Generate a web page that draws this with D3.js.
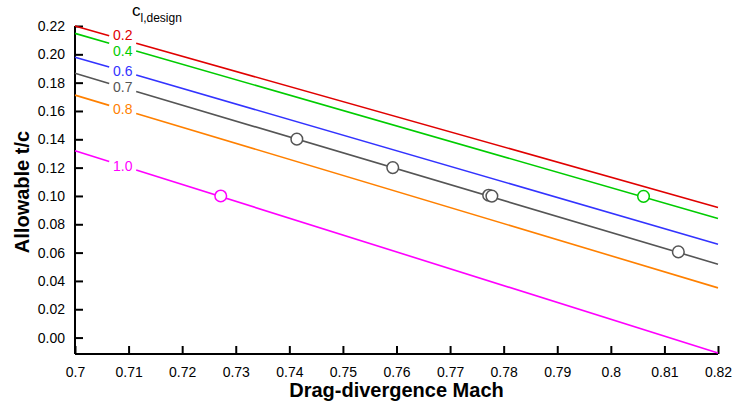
<!DOCTYPE html>
<html>
<head>
<meta charset="utf-8">
<script src="https://cdn.jsdelivr.net/npm/d3@7"></script>
<style>
  body { margin: 0; background: #fff; }
  text { font-family: Arial, "Liberation Sans", sans-serif; }
</style>
</head>
<body>
<div id="chart"></div>
<script>
// Chart size
const width = 738;
const height = 409;
const margin = { top: 26, right: 20, bottom: 55, left: 75 };

// Lines of allowable t/c vs drag-divergence Mach, one per design cl
const designCl = ["0.2", "0.4", "0.6", "0.7", "0.8", "1.0"];
const lineColors = ["#e00000", "#00cc00", "#3333ff", "#555555", "#ff8000", "#ff00ff"];
const machEnds = [0.70, 0.82];
const tcStart = [0.2200, 0.2148, 0.1980, 0.1866, 0.1712, 0.1319];
const tcEnd = [0.0919, 0.0841, 0.0659, 0.0518, 0.0351, -0.0109];

// Marked points (design cl, Mach, t/c)
const pointCl = ["1.0", "0.7", "0.7", "0.7", "0.7", "0.4", "0.7"];
const pointMach = [0.7272, 0.7414, 0.7593, 0.7772, 0.7778, 0.8061, 0.8126];
const pointTc = [0.1000, 0.1401, 0.1200, 0.1005, 0.0999, 0.0997, 0.0605];

// Axis ticks
const xTicks = [0.70, 0.71, 0.72, 0.73, 0.74, 0.75, 0.76, 0.77, 0.78, 0.79, 0.80, 0.81, 0.82];
const yTicks = [0.00, 0.02, 0.04, 0.06, 0.08, 0.10, 0.12, 0.14, 0.16, 0.18, 0.20, 0.22];
const labelMach = 0.7089;

const svg = d3.select("#chart")
    .append("svg")
    .attr("width", width)
    .attr("height", height);

const x = d3.scaleLinear()
    .domain([0.70, 0.82])
    .range([margin.left, width - margin.right]);

const y = d3.scaleLinear()
    .domain([-0.0116, 0.22])
    .range([height - margin.bottom, margin.top]);

// Axes, ticks pointing inward
const xAxis = svg.append("g")
    .attr("transform", `translate(0,${height - margin.bottom})`)
    .call(d3.axisBottom(x).tickValues(xTicks).tickSize(-8).tickPadding(13)
        .tickFormat(d => d3.format("")(+d.toFixed(2))));

const yAxis = svg.append("g")
    .attr("transform", `translate(${margin.left},0)`)
    .call(d3.axisLeft(y).tickValues(yTicks).tickSize(-8).tickPadding(10)
        .tickFormat(d3.format(".2f")));

[xAxis, yAxis].forEach(ax => {
    ax.select(".domain").attr("stroke", "#000").attr("stroke-width", 2);
    ax.selectAll(".tick line").attr("stroke", "#000").attr("stroke-width", 2);
    ax.selectAll(".tick text")
        .attr("fill", "#000")
        .style("font-size", "14px");
});
// remove the outer caps of the domain path
xAxis.select(".domain").attr("d", `M${x.range()[0]},0H${x.range()[1]}`);
yAxis.select(".domain").attr("d", `M0,${y.range()[0]}V${y.range()[1]}`);

// Lines with a gap where the label sits
const lineGen = d3.line().x(d => x(d[0])).y(d => y(d[1]));
const gapHalf = 13.5;
const tLabel = (labelMach - machEnds[0]) / (machEnds[1] - machEnds[0]);

// label positions on the lines, pushed apart when too close
const labelY = designCl.map((cl, i) => y(tcStart[i] + (tcEnd[i] - tcStart[i]) * tLabel));
const minSep = 16;
for (let i = 0; i < labelY.length - 1; i++) {
    const d = labelY[i + 1] - labelY[i];
    if (d < minSep) {
        labelY[i] -= (minSep - d) / 2;
        labelY[i + 1] += (minSep - d) / 2;
    }
}

designCl.forEach((cl, i) => {
    const pts = [[machEnds[0], tcStart[i]], [machEnds[1], tcEnd[i]]];
    const path = svg.append("path")
        .attr("d", lineGen(pts))
        .attr("fill", "none")
        .attr("stroke", lineColors[i])
        .attr("stroke-width", 1.6);

    const L = path.node().getTotalLength();
    const span = x(machEnds[1]) - x(machEnds[0]);
    const f1 = (x(labelMach) - gapHalf - x(machEnds[0])) / span;
    const f2 = (x(labelMach) + gapHalf - x(machEnds[0])) / span;
    path.attr("stroke-dasharray", `${f1 * L} ${(f2 - f1) * L} ${L}`);

    svg.append("text")
        .attr("x", x(labelMach))
        .attr("y", labelY[i])
        .attr("dy", "0.35em")
        .attr("text-anchor", "middle")
        .attr("fill", lineColors[i])
        .style("font-size", "14px")
        .text(cl);
});

// Markers
svg.selectAll("circle.pt")
    .data(pointMach)
    .enter()
    .append("circle")
    .attr("class", "pt")
    .attr("cx", d => x(d))
    .attr("cy", (d, i) => y(pointTc[i]))
    .attr("r", 5.8)
    .attr("fill", "#fff")
    .attr("stroke", (d, i) => lineColors[designCl.indexOf(pointCl[i])])
    .attr("stroke-width", 1.5);

// Legend title c_l,design
const lt = svg.append("text")
    .attr("x", 132)
    .attr("y", 16)
    .attr("fill", "#000")
    .style("font-size", "17px");
lt.append("tspan").text("c");
lt.append("tspan")
    .attr("dy", 6)
    .style("font-size", "12px")
    .text("l,design");

// Axis titles
svg.append("text")
    .attr("x", (x.range()[0] + x.range()[1]) / 2)
    .attr("y", 397)
    .attr("text-anchor", "middle")
    .attr("fill", "#000")
    .style("font-size", "20px")
    .style("font-weight", "bold")
    .text("Drag-divergence Mach");

svg.append("text")
    .attr("transform", "translate(29,192) rotate(-90)")
    .attr("text-anchor", "middle")
    .attr("fill", "#000")
    .style("font-size", "20px")
    .style("font-weight", "bold")
    .text("Allowable t/c");
</script>
</body>
</html>
